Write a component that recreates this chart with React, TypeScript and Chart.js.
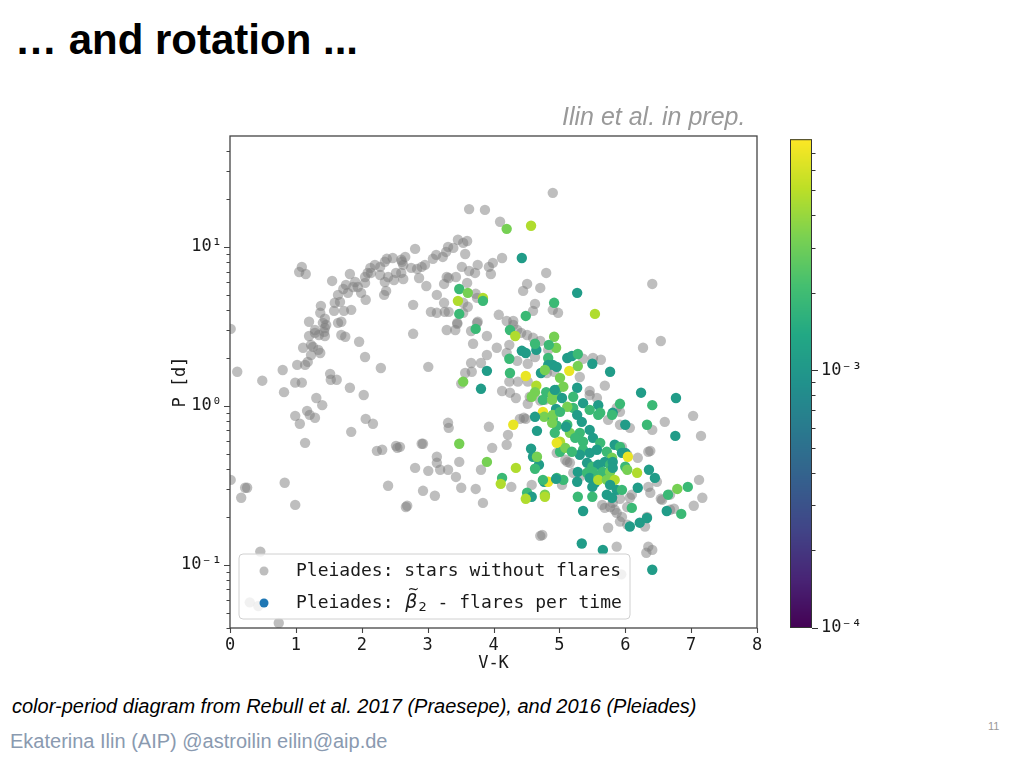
import React, { useEffect, useRef } from "react";
import { Chart, registerables } from "chart.js";

Chart.register(...registerables);

const MONO = '"DejaVu Sans Mono", monospace';
const SANS = '"Liberation Sans", Arial, sans-serif';
const TEXT = "#1a1a1a";

// ---------- data (V-K colour, rotation period P in days) ----------
const noFlareVK = [
  1.09, 1.05, 1.15, 1.55, 1.82, 1.76, 1.72, 1.79, 1.90, 1.87,
  1.64, 1.67, 1.59, 1.58, 1.73, 1.84, 1.38, 1.37, 1.44, 1.41,
  1.46, 1.20, 1.64, 1.69, 1.99, 2.05, 2.06, 2.09, 2.13, 2.20,
  2.28, 2.35, 2.38, 2.47, 2.60, 2.66, 2.28, 2.35, 2.40, 2.49,
  2.52, 2.60, 2.63, 2.34, 2.37, 2.05, 2.14, 1.94, 1.29,
  0.01, 1.44, 1.20, 1.29, 1.35, 1.44, 1.43, 1.69, 1.75, 1.11,
  1.23, 1.26, 1.34, 1.37, 1.23, 1.96, 2.05, 1.18, 1.14, 1.02,
  0.80, 0.11, 2.29, 1.52, 1.53, 1.62, 0.49, 0.99, 1.09, 1.82,
  0.82, 2.03, 1.31, 1.40, 1.17, 1.21, 1.29, 0.99, 1.06, 2.06,
  2.17, 1.84, 1.14, 2.23, 2.31, 2.52, 2.54, 0.01, 0.23, 0.26,
  0.17, 0.83, 0.99, 2.40, 2.67,
  0.46, 0.30, 0.43, 0.74,
  4.90, 3.63, 3.87, 4.10, 2.81, 3.46, 3.60, 3.54, 3.31, 3.39,
  3.28, 3.13, 3.23, 3.08, 2.61, 2.63, 2.75, 2.84, 2.91, 2.96,
  2.87, 2.98, 3.29, 3.32, 3.43, 3.57, 3.52, 3.63, 3.72, 3.76,
  3.93, 3.99, 3.96, 4.13, 4.80, 4.51, 4.45, 4.71, 3.25, 3.60,
  3.14, 2.78, 3.73, 3.75, 3.54, 3.61, 3.25, 3.26, 3.32, 3.05,
  3.14, 3.54, 3.45, 3.76, 4.08, 4.30, 4.63, 4.60, 4.90, 4.98,
  2.78, 3.29, 3.42, 3.45, 3.66, 3.75, 3.90, 3.69, 4.05, 3.90,
  3.66, 3.81, 3.57, 3.67, 3.01, 3.51, 4.13, 4.25, 4.34, 4.20,
  4.30, 4.36, 4.24, 4.20, 4.36, 4.24, 4.37, 4.52, 4.42, 4.51,
  4.60, 4.71, 4.63, 4.52, 4.92, 4.81, 4.83, 4.55, 4.52, 4.71,
  4.40, 4.46, 4.49, 4.22, 3.31, 3.32, 3.93, 2.91, 2.93, 2.58,
  3.98, 4.20, 4.96, 3.14, 3.14, 3.19, 3.31, 2.81, 3.01, 3.48,
  3.81, 3.43, 4.27, 4.58, 2.93, 3.11, 3.51, 3.73, 3.84, 2.69,
  4.71,
  6.41, 6.54, 6.27, 5.36, 5.51, 5.63, 5.31, 5.69, 5.46, 5.46,
  5.57, 4.78, 5.87, 5.92,
  5.92, 5.74, 6.07, 6.60, 5.95, 6.03, 5.09, 5.16, 5.12, 6.19,
  6.35, 5.21, 5.31, 5.04, 5.92, 5.81, 6.03, 5.65, 5.69, 5.77,
  6.07, 6.10, 6.35, 6.38, 6.48, 6.56, 6.68, 5.87, 5.95, 5.84,
  5.92, 6.03, 5.74, 6.33, 6.30, 5.87, 6.35, 6.41, 6.32, 4.74,
  7.03, 6.41, 7.15, 6.38, 7.12, 7.17, 7.04, 6.68, 6.54, 6.74,
  5.94,
];
const noFlareP = [
  7.49, 6.96, 6.76, 6.11, 6.76, 5.77, 5.44, 5.14, 6.02, 5.60,
  4.99, 4.51, 4.45, 3.96, 3.96, 4.02, 4.26, 3.85, 3.53, 3.33,
  3.23, 3.38, 3.33, 3.38, 5.14, 5.94, 4.65, 6.86, 7.38, 7.71,
  7.49, 8.06, 8.42, 8.52, 8.30, 8.65, 6.66, 6.02, 6.47, 6.19,
  6.86, 6.86, 6.28, 4.99, 5.29, 6.47, 6.86, 5.60, 3.00,
  3.05, 3.09, 2.75, 2.88, 2.79, 2.75, 2.92, 2.79, 2.72, 2.32,
  2.42, 2.35, 2.25, 2.15, 2.09, 2.53, 2.03, 1.89, 1.81, 1.81,
  1.68, 1.64, 1.73, 1.59, 1.46, 1.46, 1.44, 1.40, 1.40, 1.30,
  1.22, 1.17, 1.12, 1.01, 0.930, 0.878, 0.841, 0.865, 0.771, 0.828,
  0.771, 0.686, 0.585, 0.521, 0.529, 0.560, 0.544, 0.342, 0.305, 0.305,
  0.264, 0.328, 0.238, 0.314, 0.231,
  0.121, 0.058, 0.055, 0.043,
  21.9, 17.3, 17.1, 14.4, 9.72, 11.1, 10.9, 10.6, 10.0, 9.86,
  9.30, 8.91, 8.65, 8.42, 8.06, 7.71, 7.38, 7.27, 7.49, 7.71,
  6.38, 5.68, 6.47, 6.38, 6.47, 9.03, 7.49, 7.06, 6.86, 7.71,
  7.49, 7.94, 6.76, 8.52, 6.86, 5.85, 5.29, 5.52, 5.85, 5.94,
  4.99, 4.32, 5.07, 4.78, 4.45, 4.20, 4.45, 3.90, 3.90, 3.90,
  3.85, 3.85, 3.33, 3.38, 3.74, 3.42, 4.38, 3.96, 4.02, 3.85,
  2.84, 3.00, 3.00, 3.28, 2.96, 3.33, 2.75, 2.46, 2.32, 2.09,
  1.86, 1.86, 1.61, 1.64, 1.76, 1.38, 1.24, 1.21, 1.12, 3.42,
  3.23, 3.00, 2.42, 2.15, 1.92, 1.42, 1.42, 1.42, 2.88, 2.79,
  2.68, 2.56, 2.03, 1.84, 1.64, 1.61, 2.25, 1.14, 1.03, 1.08,
  0.828, 0.841, 0.828, 0.657, 0.782, 0.727, 0.738, 0.577, 0.577, 0.552,
  0.544, 0.569, 0.506, 0.478, 0.438, 0.396, 0.396, 0.407, 0.390, 0.444,
  0.396, 0.357, 0.309, 0.318, 0.292, 0.272, 0.305, 0.300, 0.245, 0.235,
  0.152,
  5.85, 2.56, 2.32, 1.98, 2.00, 1.95, 1.52, 1.34, 1.24, 1.17,
  1.12, 1.09, 0.971, 0.917,
  0.760, 0.816, 0.727, 0.793, 0.552, 0.492, 0.458, 0.438, 0.444, 0.471,
  0.514, 0.379, 0.357, 0.318, 0.260, 0.245, 0.231, 0.238, 0.228, 0.231,
  0.264, 0.276, 0.309, 0.284, 0.333, 0.256, 0.222, 0.212, 0.200, 0.222,
  0.187, 0.179, 0.171, 0.200, 0.174, 0.130, 0.130, 0.124, 0.119, 0.154,
  0.865, 0.706, 0.647, 0.521, 0.342, 0.264, 0.235, 0.276, 0.260, 0.225,
  0.087,
];

const flareVK = [
  4.20, 4.57, 4.43, 3.48, 3.61, 3.84, 3.84, 3.46, 3.48, 4.49,
  4.92, 3.73, 4.25, 3.90, 3.54, 3.81, 4.33, 4.24, 4.25, 4.49,
  4.65, 4.63, 4.43, 4.49, 4.65, 4.63, 4.72, 4.83, 4.92, 4.95,
  4.83, 4.90, 4.96, 4.80, 4.90, 4.96, 4.58, 4.75, 4.89, 4.95,
  4.75, 4.77, 4.63, 4.30, 4.66, 4.90, 4.96, 3.48, 4.57, 4.60,
  4.69, 4.66, 4.63, 3.90, 4.34, 4.13, 4.11, 4.77, 4.83, 4.96,
  4.51, 4.58, 4.78, 4.49, 5.27, 5.54, 4.84, 5.12, 5.19, 5.28,
  5.50, 5.77, 5.15, 5.28, 6.24, 5.27, 5.59, 5.92, 6.41, 4.78,
  5.01, 5.06, 4.93, 5.04, 5.21, 5.21, 5.12, 5.36, 5.27, 5.46,
  5.62, 5.81, 4.90, 5.01, 5.34, 5.59, 5.80, 6.00, 6.33, 4.89,
  4.93, 5.12, 5.16, 5.10, 5.31, 5.46, 5.24, 5.36, 5.01, 5.51,
  5.62, 5.57, 5.36, 5.46, 5.31, 5.01, 5.09, 5.19, 4.96, 5.72,
  5.80, 5.84, 5.92, 5.95, 6.00, 6.04, 5.42, 5.50, 5.59, 5.69,
  5.77, 5.81, 5.66, 5.77, 5.81, 6.00, 6.03, 6.18, 6.36, 5.28,
  5.42, 5.51, 5.46, 5.54, 5.59, 5.50, 5.59, 5.72, 5.84, 5.77,
  5.87, 5.95, 5.27, 5.06, 4.75, 4.95, 4.78, 5.28, 5.50, 5.72,
  5.80, 6.19, 6.10, 6.45, 6.65, 5.36, 6.07, 6.22, 6.33, 5.34,
  5.66, 6.77, 6.76, 6.79, 6.95, 6.63, 6.85, 6.41,
];
const flareP = [
  13.0, 13.6, 8.52, 5.44, 5.14, 4.78, 4.58, 4.58, 3.79, 3.68,
  4.45, 3.05, 3.00, 1.66, 1.42, 1.28, 2.75, 1.98, 1.61, 1.54,
  1.34, 1.22, 2.22, 2.15, 2.25, 2.46, 1.61, 2.00, 2.72, 2.32,
  1.81, 1.81, 1.76, 1.22, 1.17, 1.26, 1.14, 1.09, 1.09, 0.957,
  0.917, 0.853, 0.853, 0.760, 0.696, 0.828, 0.749, 0.577, 0.537, 0.478,
  0.426, 0.478, 0.402, 0.444, 0.407, 0.352, 0.323, 0.333, 0.333, 0.352,
  0.284, 0.268, 0.276, 0.260, 5.14, 3.79, 2.42, 2.00, 2.06, 2.12,
  1.84, 1.64, 1.66, 1.78, 1.21, 1.30, 1.01, 1.03, 1.01, 1.68,
  1.50, 1.32, 1.26, 1.12, 1.14, 0.971, 0.986, 1.04, 0.878, 0.944,
  0.904, 0.904, 0.878, 0.917, 0.793, 0.878, 0.878, 0.760, 0.760, 0.782,
  0.676, 0.760, 0.676, 0.738, 0.676, 0.706, 0.629, 0.594, 0.594, 0.629,
  0.585, 0.529, 0.529, 0.506, 0.492, 0.514, 0.544, 0.514, 0.585, 0.514,
  0.471, 0.569, 0.552, 0.506, 0.506, 0.478, 0.438, 0.414, 0.426, 0.444,
  0.426, 0.444, 0.384, 0.384, 0.407, 0.414, 0.396, 0.379, 0.396, 0.384,
  0.379, 0.384, 0.352, 0.328, 0.357, 0.309, 0.342, 0.342, 0.342, 0.318,
  0.296, 0.296, 0.333, 0.342, 0.342, 0.347, 0.268, 0.268, 0.268, 0.276,
  0.264, 0.305, 0.228, 0.352, 0.276, 0.218, 0.174, 0.184, 0.197, 0.136,
  0.124, 1.12, 0.647, 0.300, 0.309, 0.218, 0.209, 0.093,
];
// flares per time (beta_2), drives the colour
const flareRate = [
  0.0032, 0.0047, 0.0011, 0.0019, 0.0032, 0.0047, 0.0019, 0.0047, 0.0019, 0.0019,
  0.0019, 0.0019, 0.0019, 0.0011, 0.0032, 0.0011, 0.0047, 0.0019, 0.0019, 0.0069,
  0.0047, 0.0032, 0.0011, 0.0011, 0.0011, 0.0019, 0.0011, 0.0019, 0.0032, 0.0032,
  0.0011, 0.0011, 0.0011, 0.0019, 0.0032, 0.0019, 0.0032, 0.0019, 0.0032, 0.0011,
  0.0069, 0.0032, 0.0011, 0.0069, 0.0011, 0.0019, 0.0019, 0.0032, 0.0011, 0.0011,
  0.0011, 0.0032, 0.0019, 0.0032, 0.0047, 0.0019, 0.0047, 0.0011, 0.0069, 0.0019,
  0.0019, 0.0011, 0.0032, 0.0047, 0.0011, 0.0047, 0.0019, 0.0011, 0.0011, 0.0019,
  0.0011, 0.0011, 0.0069, 0.0032, 0.0011, 0.0011, 0.0011, 0.0019, 0.0019, 0.0032,
  0.0032, 0.0032, 0.0011, 0.0011, 0.0019, 0.0019, 0.0032, 0.0011, 0.0011, 0.0019,
  0.0019, 0.0011, 0.0032, 0.0019, 0.0011, 0.0019, 0.0019, 0.0011, 0.0019, 0.0032,
  0.0019, 0.0019, 0.0032, 0.0011, 0.0019, 0.0011, 0.0019, 0.0019, 0.0047, 0.0011,
  0.0019, 0.0011, 0.0019, 0.0011, 0.0011, 0.0019, 0.0032, 0.0019, 0.0069, 0.0019,
  0.0032, 0.0011, 0.0019, 0.0011, 0.0011, 0.0069, 0.0011, 0.0019, 0.0011, 0.0011,
  0.0019, 0.0011, 0.0019, 0.0032, 0.0011, 0.0019, 0.0032, 0.0047, 0.0011, 0.0011,
  0.0019, 0.0019, 0.0011, 0.0011, 0.0019, 0.0011, 0.0047, 0.0032, 0.0047, 0.0011,
  0.0011, 0.0019, 0.0011, 0.0019, 0.0019, 0.0011, 0.0047, 0.0019, 0.0019, 0.0011,
  0.0011, 0.0011, 0.0019, 0.0011, 0.0019, 0.0011, 0.0011, 0.0011, 0.0011, 0.0011,
  0.0011, 0.0011, 0.0011, 0.0032, 0.0019, 0.0011, 0.0019, 0.0011,
];

// ---------- axes ----------
const VK_RANGE = [0, 8];
const VK_TICKS = [0, 1, 2, 3, 4, 5, 6, 7, 8];
const P_RANGE = [0.04, 49.9];
const P_MAJOR = [0.1, 1, 10];
const P_MAJOR_LABELS = ["10⁻¹", "10⁰", "10¹"];
const RATE_RANGE = [1e-4, 7.9e-3];
const RATE_MAJOR = [1e-4, 1e-3];
const RATE_MAJOR_LABELS = ["10⁻⁴", "10⁻³"];

const LEGEND_LABELS = ["Pleiades: stars without flares", "Pleiades: β̃₂ - flares per time"];
const LEGEND_FLARE_MARKER = "#1f77b4";
const GRAY_POINT = "rgba(125,125,125,0.5)";

const TITLE = "… and rotation ...";
const NOTE = "Ilin et al. in prep.";
const CAPTION = "color-period diagram from Rebull et al. 2017 (Praesepe), and 2016 (Pleiades)";
const FOOTER = "Ekaterina Ilin (AIP) @astroilin eilin@aip.de";
const PAGE = "11";

// ---------- helpers ----------
const VIRIDIS = ["#440154", "#482475", "#414487", "#355f8d", "#2a788e", "#21918c", "#22a884", "#44bf70", "#7ad151", "#bddf26", "#fde725"];
function hexToRgb(h: string) {
  const n = parseInt(h.slice(1), 16);
  return [(n >> 16) & 255, (n >> 8) & 255, n & 255];
}
function viridis(t: number) {
  const c = Math.min(1, Math.max(0, t)) * (VIRIDIS.length - 1);
  const i = Math.min(VIRIDIS.length - 2, Math.floor(c));
  const f = c - i;
  const a = hexToRgb(VIRIDIS[i]);
  const b = hexToRgb(VIRIDIS[i + 1]);
  return `rgb(${Math.round(a[0] + (b[0] - a[0]) * f)},${Math.round(a[1] + (b[1] - a[1]) * f)},${Math.round(a[2] + (b[2] - a[2]) * f)})`;
}
function rateUnit(v: number) {
  const lo = Math.log10(RATE_RANGE[0]);
  const hi = Math.log10(RATE_RANGE[1]);
  return (Math.log10(v) - lo) / (hi - lo);
}
function logTicks(min: number, max: number) {
  const out: number[] = [];
  for (let e = Math.floor(Math.log10(min)); e <= Math.ceil(Math.log10(max)); e++) {
    for (let m = 1; m <= 9; m++) {
      const v = m * Math.pow(10, e);
      if (v >= min * 0.9999 && v <= max * 1.0001) out.push(v);
    }
  }
  return out;
}
function majorIndex(v: number, majors: number[]) {
  return majors.findIndex((m) => Math.abs(Math.log10(v / m)) < 1e-6);
}

function drawLegendLabel(ctx: CanvasRenderingContext2D, text: string, x: number, y: number) {
  const key = "β̃₂";
  ctx.fillStyle = TEXT;
  ctx.textBaseline = "middle";
  ctx.textAlign = "left";
  ctx.font = `18px ${MONO}`;
  const k = text.indexOf(key);
  if (k < 0) {
    ctx.fillText(text, x, y);
    return;
  }
  const pre = text.slice(0, k);
  const post = text.slice(k + key.length);
  ctx.fillText(pre, x, y);
  let cx = x + ctx.measureText(pre).width + 1;
  ctx.font = `italic 19px "DejaVu Sans", sans-serif`;
  ctx.fillText("β", cx, y);
  const bw = ctx.measureText("β").width;
  ctx.font = `14px "DejaVu Sans", sans-serif`;
  ctx.textAlign = "center";
  ctx.fillText("~", cx + bw / 2 + 2, y - 13);
  ctx.textAlign = "left";
  ctx.font = `13px "DejaVu Sans", sans-serif`;
  ctx.fillText("2", cx + bw + 1, y + 5);
  cx += bw + 1 + ctx.measureText("2").width;
  ctx.font = `18px ${MONO}`;
  ctx.fillText(post, cx, y);
}

export default function App() {
  const mainRef = useRef<HTMLCanvasElement>(null);
  const cbRef = useRef<HTMLCanvasElement>(null);

  useEffect(() => {
    if (!mainRef.current || !cbRef.current) return;
    const pTicks = logTicks(P_RANGE[0], P_RANGE[1]);
    const rTicks = logTicks(RATE_RANGE[0], RATE_RANGE[1]);

    const framePlugin = {
      id: "frame",
      afterDraw(chart: any) {
        const { ctx, chartArea: a, scales } = chart;
        ctx.save();
        ctx.strokeStyle = "#444";
        ctx.lineWidth = 1.3;
        ctx.strokeRect(a.left, a.top, a.right - a.left, a.bottom - a.top);
        ctx.lineWidth = 1.1;
        ctx.beginPath();
        VK_TICKS.forEach((v) => {
          const px = Math.round(scales.x.getPixelForValue(v)) + 0.5;
          ctx.moveTo(px, a.bottom);
          ctx.lineTo(px, a.bottom + 5);
        });
        pTicks.forEach((v) => {
          const py = Math.round(scales.y.getPixelForValue(v)) + 0.5;
          const len = majorIndex(v, P_MAJOR) >= 0 ? 6 : 3.5;
          ctx.moveTo(a.left - len, py);
          ctx.lineTo(a.left, py);
        });
        ctx.stroke();
        ctx.restore();
      },
    };

    const legendPlugin = {
      id: "boxLegend",
      afterDatasetsDraw(chart: any) {
        const { ctx, chartArea: a } = chart;
        const ds = chart.data.datasets;
        const bx = a.left + 9;
        const by = a.bottom - 74;
        const bw = 391;
        const bh = 65;
        ctx.save();
        ctx.beginPath();
        ctx.roundRect(bx, by, bw, bh, 4);
        ctx.fillStyle = "rgba(255,255,255,0.8)";
        ctx.fill();
        ctx.strokeStyle = "#d0d0d0";
        ctx.lineWidth = 1;
        ctx.stroke();
        const rows = [a.bottom - 57, a.bottom - 25];
        const markers = [ds[1].backgroundColor, LEGEND_FLARE_MARKER];
        const labels = [ds[1].label, ds[0].label];
        rows.forEach((ry, i) => {
          ctx.beginPath();
          ctx.arc(a.left + 34, ry, 4.5, 0, Math.PI * 2);
          ctx.fillStyle = markers[i];
          ctx.fill();
          drawLegendLabel(ctx, labels[i], a.left + 66, ry);
        });
        ctx.restore();
      },
    };

    const main = new Chart(mainRef.current, {
      type: "scatter",
      data: {
        datasets: [
          {
            label: LEGEND_LABELS[1],
            data: flareVK.map((x, i) => ({ x, y: flareP[i] })),
            backgroundColor: flareRate.map((v) => viridis(rateUnit(v))),
            borderWidth: 0,
            pointRadius: 5.2,
            order: 1,
          },
          {
            label: LEGEND_LABELS[0],
            data: noFlareVK.map((x, i) => ({ x, y: noFlareP[i] })),
            backgroundColor: GRAY_POINT,
            borderWidth: 0,
            pointRadius: 5.2,
            order: 2,
          },
        ],
      },
      options: {
        responsive: false,
        animation: false,
        events: [],
        layout: { padding: { left: 20, top: 26, right: 13, bottom: 16 } },
        plugins: { legend: { display: false }, tooltip: { enabled: false } },
        scales: {
          x: {
            type: "linear",
            min: VK_RANGE[0],
            max: VK_RANGE[1],
            afterBuildTicks: (s: any) => {
              s.ticks = VK_TICKS.map((v) => ({ value: v }));
            },
            afterFit: (s: any) => {
              s.height = 46;
            },
            grid: { display: false, drawTicks: false },
            border: { display: false },
            ticks: { padding: 7, autoSkip: false, maxRotation: 0, color: TEXT, font: { family: MONO, size: 17 } },
            title: { display: true, text: "V-K", color: TEXT, padding: 0, font: { family: MONO, size: 17 } },
          },
          y: {
            type: "logarithmic",
            min: P_RANGE[0],
            max: P_RANGE[1],
            afterBuildTicks: (s: any) => {
              s.ticks = pTicks.map((v) => ({ value: v, major: majorIndex(v, P_MAJOR) >= 0 }));
            },
            afterFit: (s: any) => {
              s.width = 60;
            },
            grid: { display: false, drawTicks: false },
            border: { display: false },
            ticks: {
              padding: 8,
              autoSkip: false,
              color: TEXT,
              font: { family: MONO, size: 17 },
              callback: (v: any) => {
                const i = majorIndex(Number(v), P_MAJOR);
                return i >= 0 ? P_MAJOR_LABELS[i] : "";
              },
            },
            title: { display: true, text: "P [d]", color: TEXT, padding: 0, font: { family: MONO, size: 17 } },
          },
        },
      } as any,
      plugins: [framePlugin, legendPlugin],
    });

    const colorbarPlugin = {
      id: "colorbar",
      beforeDatasetsDraw(chart: any) {
        const { ctx, chartArea: a, scales } = chart;
        const ys = scales.y;
        ctx.save();
        for (let y = Math.floor(a.top); y < Math.ceil(a.bottom); y++) {
          const v = ys.getValueForPixel(y + 0.5);
          ctx.fillStyle = viridis(rateUnit(v));
          ctx.fillRect(a.left, y, a.right - a.left, 1);
        }
        ctx.strokeStyle = "#333";
        ctx.lineWidth = 1;
        ctx.strokeRect(a.left + 0.5, a.top + 0.5, a.right - a.left - 1, a.bottom - a.top - 1);
        ctx.beginPath();
        rTicks.forEach((v) => {
          const py = Math.round(ys.getPixelForValue(v)) + 0.5;
          const len = majorIndex(v, RATE_MAJOR) >= 0 ? 6 : 3.5;
          ctx.moveTo(a.right, py);
          ctx.lineTo(a.right + len, py);
        });
        ctx.stroke();
        ctx.restore();
      },
    };

    const cb = new Chart(cbRef.current, {
      type: "scatter",
      data: { datasets: [] },
      options: {
        responsive: false,
        animation: false,
        events: [],
        layout: { padding: { left: 10, top: 17, right: 8, bottom: 22 } },
        plugins: { legend: { display: false }, tooltip: { enabled: false } },
        scales: {
          x: { display: false, min: 0, max: 1 },
          y: {
            type: "logarithmic",
            position: "right",
            min: RATE_RANGE[0],
            max: RATE_RANGE[1],
            afterBuildTicks: (s: any) => {
              s.ticks = rTicks.map((v) => ({ value: v, major: majorIndex(v, RATE_MAJOR) >= 0 }));
            },
            afterFit: (s: any) => {
              s.width = 70;
            },
            grid: { display: false, drawTicks: false },
            border: { display: false },
            ticks: {
              padding: 9,
              autoSkip: false,
              color: TEXT,
              font: { family: MONO, size: 17 },
              callback: (v: any) => {
                const i = majorIndex(Number(v), RATE_MAJOR);
                return i >= 0 ? RATE_MAJOR_LABELS[i] : "";
              },
            },
          },
        },
      } as any,
      plugins: [colorbarPlugin],
    });

    return () => {
      main.destroy();
      cb.destroy();
    };
  }, []);

  return (
    <div style={{ position: "fixed", left: 0, top: 0, width: 1024, height: 768, background: "#fff", overflow: "hidden" }}>
      <div style={{ position: "absolute", left: 150, top: 110, width: 620, height: 580 }}>
        <canvas ref={mainRef} width={620} height={580} style={{ width: 620, height: 580 }} />
      </div>
      <div style={{ position: "absolute", left: 780, top: 120, width: 110, height: 530 }}>
        <canvas ref={cbRef} width={110} height={530} style={{ width: 110, height: 530 }} />
      </div>
      <div style={{ position: "absolute", left: 15, top: 19, fontFamily: SANS, fontWeight: "bold", fontSize: 42, lineHeight: "42px", color: "#000", whiteSpace: "nowrap" }}>
        {TITLE}
      </div>
      <div style={{ position: "absolute", left: 562, top: 104, fontFamily: SANS, fontStyle: "italic", fontSize: 25, lineHeight: "25px", color: "#999", whiteSpace: "nowrap" }}>
        {NOTE}
      </div>
      <div style={{ position: "absolute", left: 12, top: 696, fontFamily: SANS, fontStyle: "italic", fontSize: 20, lineHeight: "20px", color: "#000", whiteSpace: "nowrap" }}>
        {CAPTION}
      </div>
      <div style={{ position: "absolute", left: 10, top: 731, fontFamily: SANS, fontSize: 20, lineHeight: "20px", color: "#8a9ab0", whiteSpace: "nowrap" }}>
        {FOOTER}
      </div>
      <div style={{ position: "absolute", left: 988, top: 721, fontFamily: SANS, fontSize: 11, lineHeight: "11px", color: "#999", whiteSpace: "nowrap" }}>
        {PAGE}
      </div>
    </div>
  );
}
